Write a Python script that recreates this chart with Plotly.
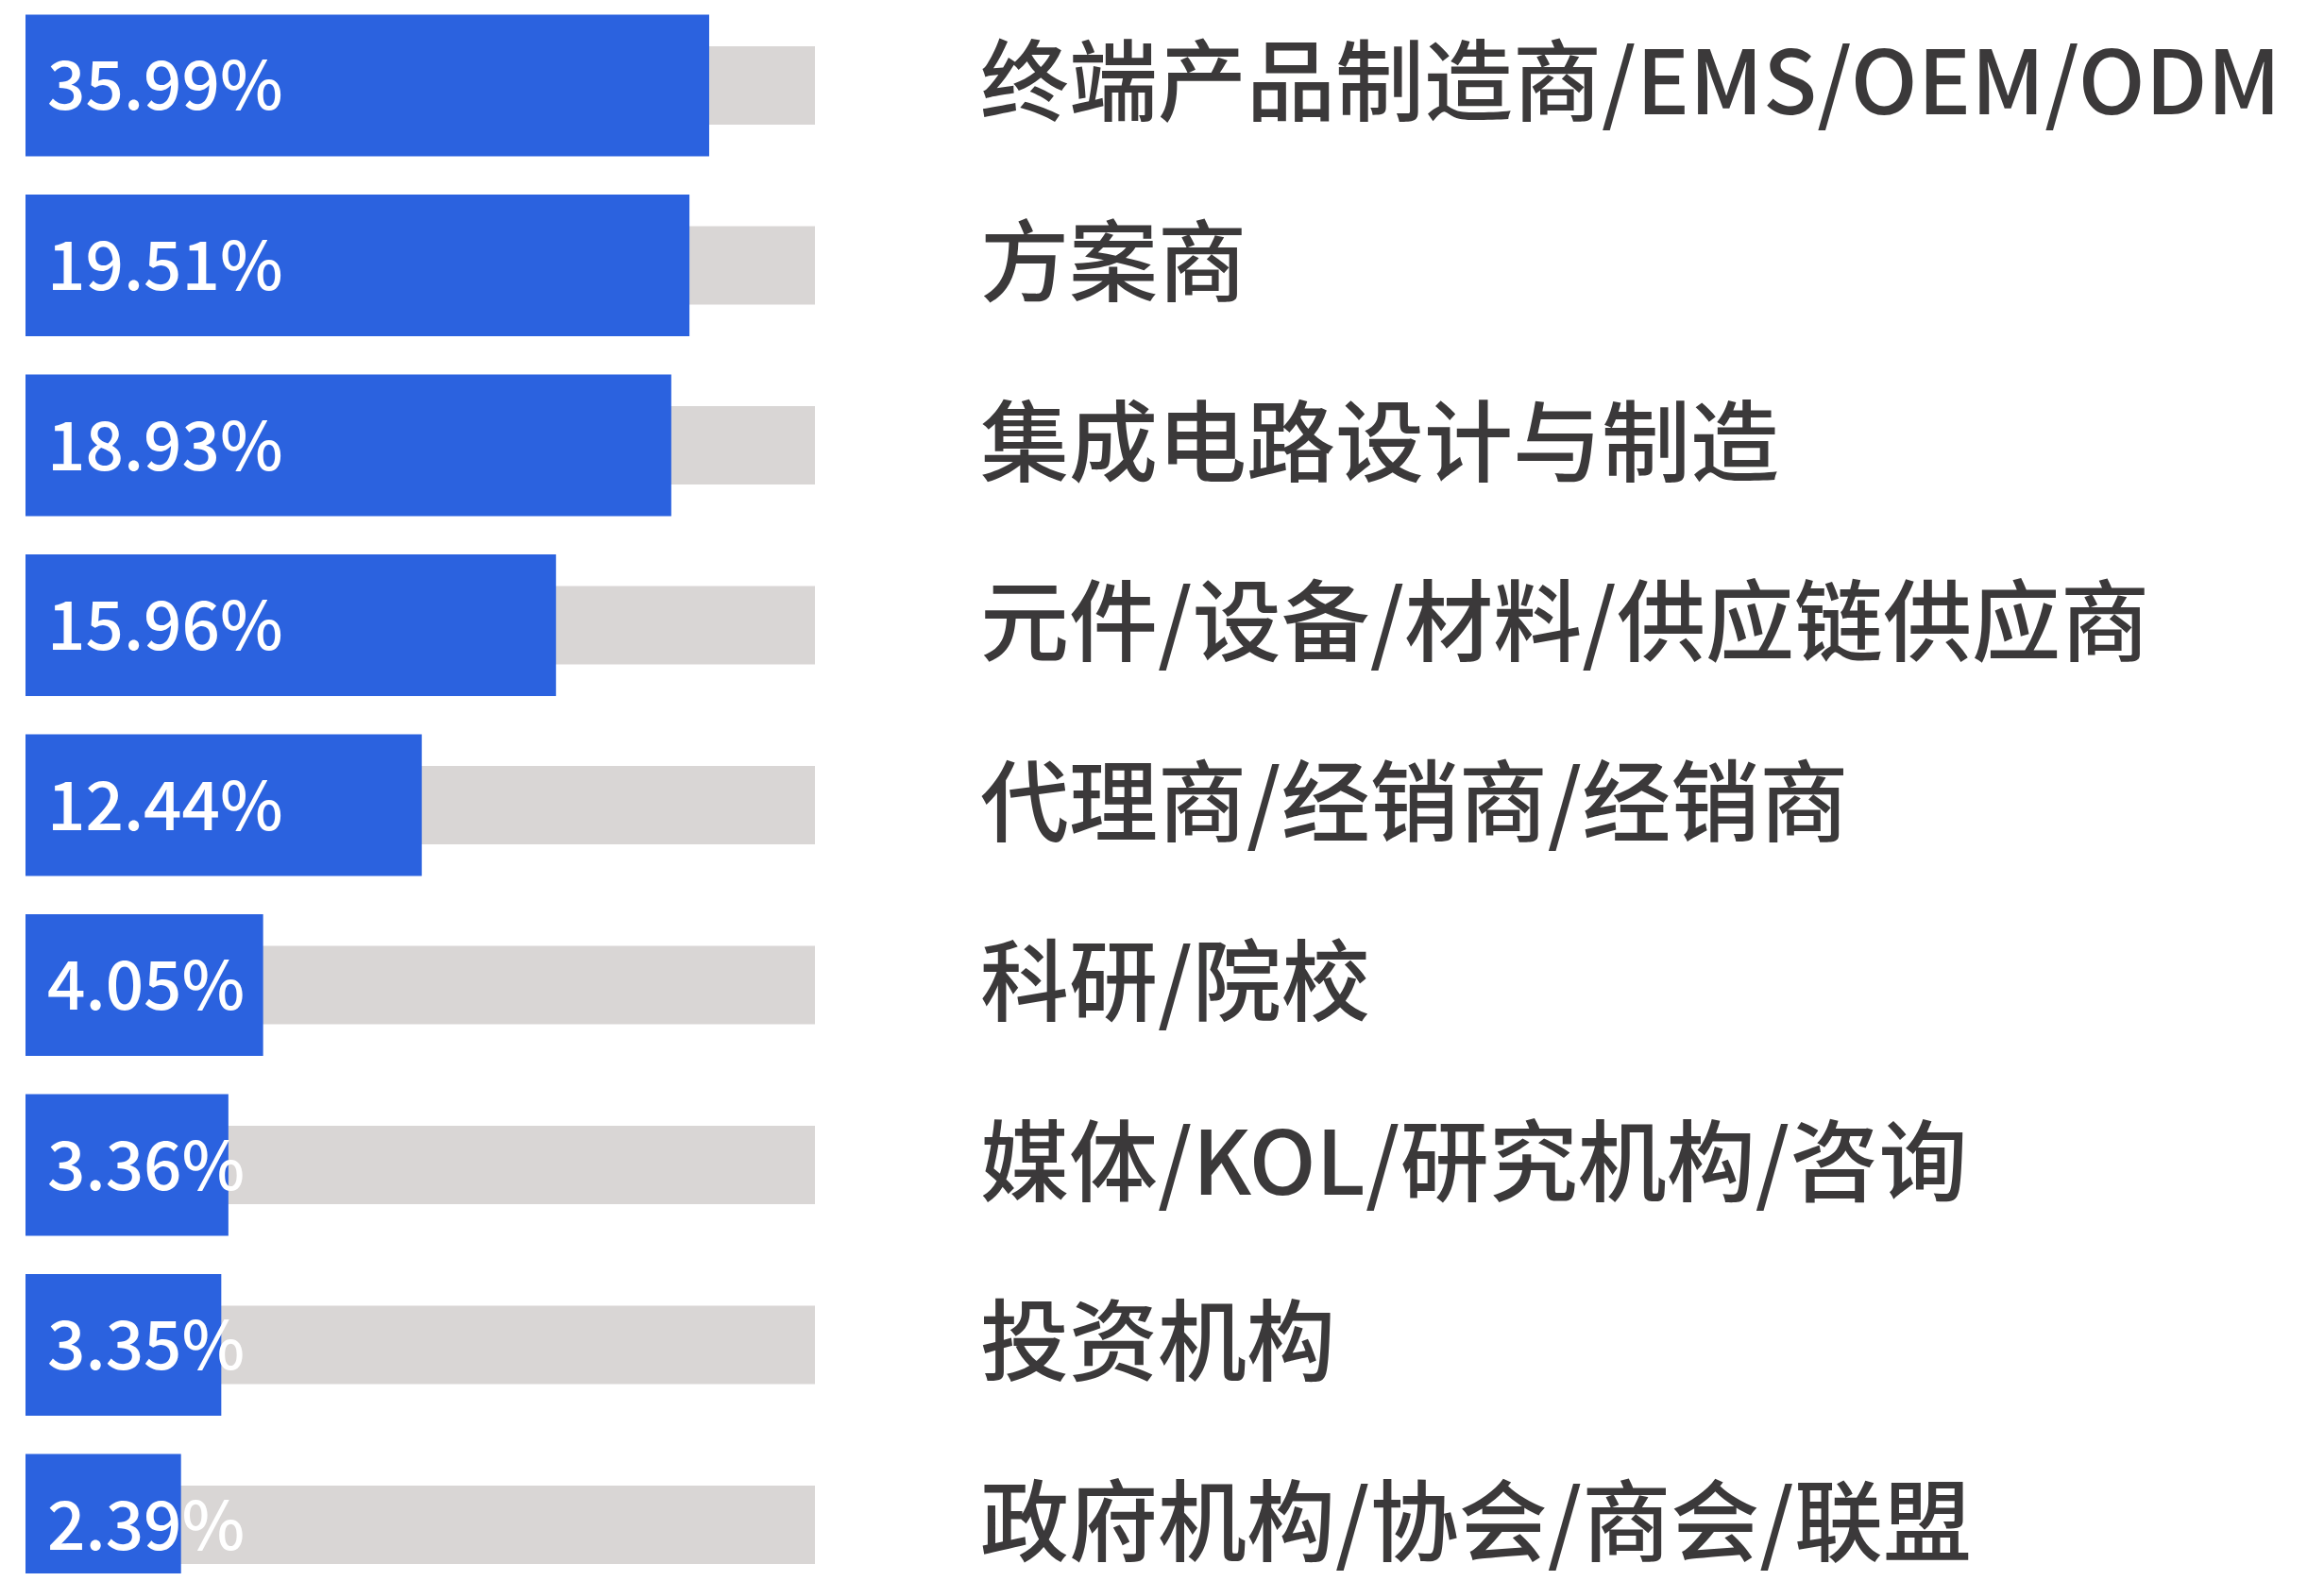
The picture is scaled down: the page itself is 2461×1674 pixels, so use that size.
import plotly.graph_objects as go

categories = [
    "终端产品制造商/EMS/OEM/ODM",
    "方案商",
    "集成电路设计与制造",
    "元件/设备/材料/供应链供应商",
    "代理商/经销商/经销商",
    "科研/院校",
    "媒体/KOL/研究机构/咨询",
    "投资机构",
    "政府机构/协会/商会/联盟",
]
share_labels = ["35.99%", "19.51%", "18.93%", "15.96%", "12.44%", "4.05%", "3.36%", "3.35%", "2.39%"]
# bar lengths as drawn in the picture, relative to the grey track (=100)
bar_length = [86.6, 84.1, 81.8, 67.2, 50.2, 30.1, 25.7, 24.8, 19.7]
track_length = [100] * len(categories)

BLUE = "#2B62DF"
GREY = "#D9D6D5"
TEXT = "#3B393A"
FONT = "Noto Sans CJK SC Medium, Noto Sans CJK SC"

fig = go.Figure()
fig.add_trace(go.Bar(
    y=categories, x=track_length, orientation="h",
    marker=dict(color=GREY, line=dict(width=0)), width=0.436,
    hoverinfo="skip", showlegend=False,
))
fig.add_trace(go.Bar(
    y=categories, x=bar_length, orientation="h",
    marker=dict(color=BLUE, line=dict(width=0)), width=0.787,
    showlegend=False,
))

for cat, lab in zip(categories, share_labels):
    fig.add_annotation(
        x=0, y=cat, xref="x", yref="y", text=lab, showarrow=False,
        xanchor="left", yanchor="middle", xshift=21, yshift=5,
        font=dict(family=FONT, size=71, color="white", weight=500),
    )
    fig.add_annotation(
        x=100, y=cat, xref="x", yref="y", text=cat, showarrow=False,
        xanchor="left", yanchor="middle", xshift=173, yshift=10,
        font=dict(family=FONT, size=94, color=TEXT, weight=500),
    )

fig.update_layout(
    width=2445, height=1658,
    margin=dict(l=19, r=1590, t=0, b=0, autoexpand=False),
    barmode="overlay",
    plot_bgcolor="white", paper_bgcolor="white",
    xaxis=dict(range=[0, 100], visible=False, fixedrange=True),
    yaxis=dict(
        type="category", categoryorder="array", categoryarray=categories,
        range=[8.270, -0.433], visible=False, fixedrange=True,
    ),
    font=dict(family=FONT),
)

fig.write_html("out.html")
